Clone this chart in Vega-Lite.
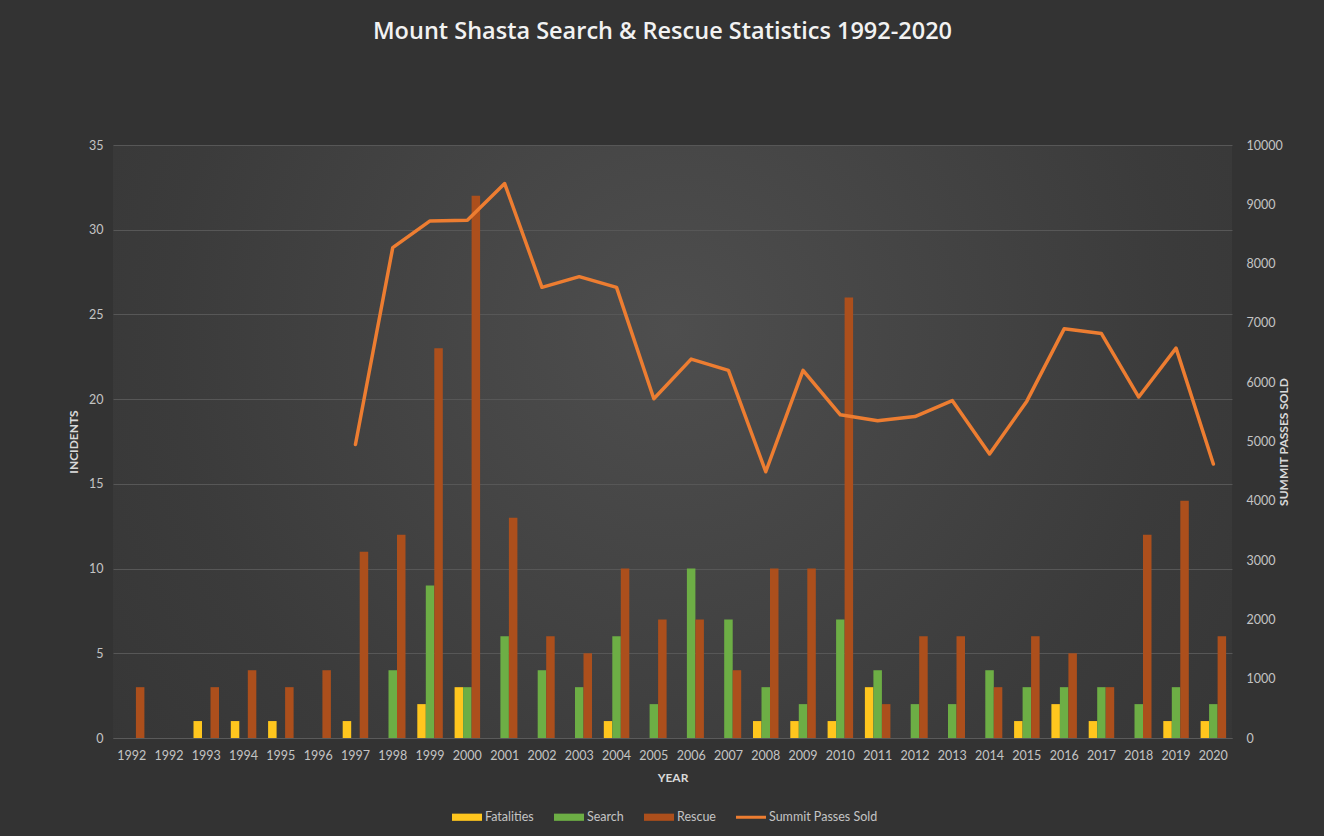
{
  "$schema": "https://vega.github.io/schema/vega-lite/v6.json",
  "width": 1119,
  "height": 593,
  "autosize": {"type": "none"},
  "padding": {"left": 113, "top": 145, "right": 92, "bottom": 98},
  "background": "#333333",
  "config": {
    "font": "Lato",
    "view": {
      "stroke": null,
      "fill": {
        "gradient": "radial",
        "x1": 0.5, "y1": 0.4, "r1": 0,
        "x2": 0.5, "y2": 0.4, "r2": 0.75,
        "stops": [
          {"offset": 0, "color": "#4e4e4e"},
          {"offset": 0.6, "color": "#3b3b3b"},
          {"offset": 1, "color": "#333333"}
        ]
      }
    },
    "axis": {
      "labelFont": "Lato",
      "labelFontSize": 12.5,
      "labelColor": "#c4c4c4",
      "titleFont": "Lato",
      "titleFontSize": 12,
      "titleFontWeight": "bold",
      "titleColor": "#d9d9d9",
      "ticks": false
    }
  },
  "title": {
    "text": "Mount Shasta Search & Rescue Statistics 1992-2020",
    "font": "Open Sans",
    "fontSize": 23.5,
    "fontWeight": 600,
    "color": "#f2f2f2",
    "anchor": "middle",
    "offset": 96,
    "dx": -10
  },
  "datasets": {
    "incidents": [
      {"slot": "1992a", "series": "Fatalities", "value": 0}, {"slot": "1992a", "series": "Search", "value": 0}, {"slot": "1992a", "series": "Rescue", "value": 3},
      {"slot": "1992b", "series": "Fatalities", "value": 0}, {"slot": "1992b", "series": "Search", "value": 0}, {"slot": "1992b", "series": "Rescue", "value": 0},
      {"slot": "1993", "series": "Fatalities", "value": 1}, {"slot": "1993", "series": "Search", "value": 0}, {"slot": "1993", "series": "Rescue", "value": 3},
      {"slot": "1994", "series": "Fatalities", "value": 1}, {"slot": "1994", "series": "Search", "value": 0}, {"slot": "1994", "series": "Rescue", "value": 4},
      {"slot": "1995", "series": "Fatalities", "value": 1}, {"slot": "1995", "series": "Search", "value": 0}, {"slot": "1995", "series": "Rescue", "value": 3},
      {"slot": "1996", "series": "Fatalities", "value": 0}, {"slot": "1996", "series": "Search", "value": 0}, {"slot": "1996", "series": "Rescue", "value": 4},
      {"slot": "1997", "series": "Fatalities", "value": 1}, {"slot": "1997", "series": "Search", "value": 0}, {"slot": "1997", "series": "Rescue", "value": 11},
      {"slot": "1998", "series": "Fatalities", "value": 0}, {"slot": "1998", "series": "Search", "value": 4}, {"slot": "1998", "series": "Rescue", "value": 12},
      {"slot": "1999", "series": "Fatalities", "value": 2}, {"slot": "1999", "series": "Search", "value": 9}, {"slot": "1999", "series": "Rescue", "value": 23},
      {"slot": "2000", "series": "Fatalities", "value": 3}, {"slot": "2000", "series": "Search", "value": 3}, {"slot": "2000", "series": "Rescue", "value": 32},
      {"slot": "2001", "series": "Fatalities", "value": 0}, {"slot": "2001", "series": "Search", "value": 6}, {"slot": "2001", "series": "Rescue", "value": 13},
      {"slot": "2002", "series": "Fatalities", "value": 0}, {"slot": "2002", "series": "Search", "value": 4}, {"slot": "2002", "series": "Rescue", "value": 6},
      {"slot": "2003", "series": "Fatalities", "value": 0}, {"slot": "2003", "series": "Search", "value": 3}, {"slot": "2003", "series": "Rescue", "value": 5},
      {"slot": "2004", "series": "Fatalities", "value": 1}, {"slot": "2004", "series": "Search", "value": 6}, {"slot": "2004", "series": "Rescue", "value": 10},
      {"slot": "2005", "series": "Fatalities", "value": 0}, {"slot": "2005", "series": "Search", "value": 2}, {"slot": "2005", "series": "Rescue", "value": 7},
      {"slot": "2006", "series": "Fatalities", "value": 0}, {"slot": "2006", "series": "Search", "value": 10}, {"slot": "2006", "series": "Rescue", "value": 7},
      {"slot": "2007", "series": "Fatalities", "value": 0}, {"slot": "2007", "series": "Search", "value": 7}, {"slot": "2007", "series": "Rescue", "value": 4},
      {"slot": "2008", "series": "Fatalities", "value": 1}, {"slot": "2008", "series": "Search", "value": 3}, {"slot": "2008", "series": "Rescue", "value": 10},
      {"slot": "2009", "series": "Fatalities", "value": 1}, {"slot": "2009", "series": "Search", "value": 2}, {"slot": "2009", "series": "Rescue", "value": 10},
      {"slot": "2010", "series": "Fatalities", "value": 1}, {"slot": "2010", "series": "Search", "value": 7}, {"slot": "2010", "series": "Rescue", "value": 26},
      {"slot": "2011", "series": "Fatalities", "value": 3}, {"slot": "2011", "series": "Search", "value": 4}, {"slot": "2011", "series": "Rescue", "value": 2},
      {"slot": "2012", "series": "Fatalities", "value": 0}, {"slot": "2012", "series": "Search", "value": 2}, {"slot": "2012", "series": "Rescue", "value": 6},
      {"slot": "2013", "series": "Fatalities", "value": 0}, {"slot": "2013", "series": "Search", "value": 2}, {"slot": "2013", "series": "Rescue", "value": 6},
      {"slot": "2014", "series": "Fatalities", "value": 0}, {"slot": "2014", "series": "Search", "value": 4}, {"slot": "2014", "series": "Rescue", "value": 3},
      {"slot": "2015", "series": "Fatalities", "value": 1}, {"slot": "2015", "series": "Search", "value": 3}, {"slot": "2015", "series": "Rescue", "value": 6},
      {"slot": "2016", "series": "Fatalities", "value": 2}, {"slot": "2016", "series": "Search", "value": 3}, {"slot": "2016", "series": "Rescue", "value": 5},
      {"slot": "2017", "series": "Fatalities", "value": 1}, {"slot": "2017", "series": "Search", "value": 3}, {"slot": "2017", "series": "Rescue", "value": 3},
      {"slot": "2018", "series": "Fatalities", "value": 0}, {"slot": "2018", "series": "Search", "value": 2}, {"slot": "2018", "series": "Rescue", "value": 12},
      {"slot": "2019", "series": "Fatalities", "value": 1}, {"slot": "2019", "series": "Search", "value": 3}, {"slot": "2019", "series": "Rescue", "value": 14},
      {"slot": "2020", "series": "Fatalities", "value": 1}, {"slot": "2020", "series": "Search", "value": 2}, {"slot": "2020", "series": "Rescue", "value": 6}
    ],
    "passes": [
      {"slot": "1997", "passes": 4950},
      {"slot": "1998", "passes": 8270},
      {"slot": "1999", "passes": 8720},
      {"slot": "2000", "passes": 8730},
      {"slot": "2001", "passes": 9350},
      {"slot": "2002", "passes": 7600},
      {"slot": "2003", "passes": 7780},
      {"slot": "2004", "passes": 7600},
      {"slot": "2005", "passes": 5720},
      {"slot": "2006", "passes": 6390},
      {"slot": "2007", "passes": 6200},
      {"slot": "2008", "passes": 4490},
      {"slot": "2009", "passes": 6200},
      {"slot": "2010", "passes": 5450},
      {"slot": "2011", "passes": 5350},
      {"slot": "2012", "passes": 5420},
      {"slot": "2013", "passes": 5690},
      {"slot": "2014", "passes": 4790},
      {"slot": "2015", "passes": 5680},
      {"slot": "2016", "passes": 6900},
      {"slot": "2017", "passes": 6820},
      {"slot": "2018", "passes": 5750},
      {"slot": "2019", "passes": 6575},
      {"slot": "2020", "passes": 4620}
    ]
  },
  "encoding": {
    "x": {
      "field": "slot",
      "type": "nominal",
      "title": "YEAR",
      "scale": {"paddingInner": 0.316, "paddingOuter": 0.158},
      "axis": {
        "labelExpr": "substring(datum.label, 0, 4)",
        "labelAngle": 0,
        "labelPadding": 11,
        "titlePadding": 11,
        "domainColor": "#5a5a5a",
        "domainWidth": 1,
        "grid": false
      }
    }
  },
  "layer": [
    {
      "data": {"name": "incidents"},
      "mark": {"type": "bar"},
      "encoding": {
        "xOffset": {
          "field": "series",
          "type": "nominal",
          "scale": {"domain": ["Fatalities", "Search", "Rescue"], "paddingInner": 0, "paddingOuter": 0}
        },
        "y": {
          "field": "value",
          "type": "quantitative",
          "title": "INCIDENTS",
          "scale": {"domain": [0, 35], "nice": false},
          "axis": {
            "values": [0, 5, 10, 15, 20, 25, 30, 35],
            "grid": true,
            "gridColor": "#575757",
            "gridWidth": 1,
            "domain": false,
            "labelPadding": 10,
            "titlePadding": 8
          }
        },
        "color": {
          "field": "series",
          "type": "nominal",
          "scale": {
            "domain": ["Fatalities", "Search", "Rescue", "Summit Passes Sold"],
            "range": ["#FFC61E", "#6DAE45", "#AC4F1C", "#ED7D31"]
          },
          "legend": {
            "orient": "none",
            "legendX": 339,
            "legendY": 657,
            "direction": "horizontal",
            "title": null,
            "labelFont": "Lato",
            "labelFontSize": 12.5,
            "labelColor": "#c4c4c4",
            "labelOffset": 3,
            "columnPadding": 20,
            "symbolSize": 900,
            "encode": {
              "symbols": {
                "update": {
                  "shape": {"signal": "datum.value === 'Summit Passes Sold' ? 'M-1,-0.1H1V0.1H-1Z' : 'M-1,-0.24H1V0.24H-1Z'"},
                  "fill": {"scale": "color", "field": "value"},
                  "strokeWidth": {"value": 0}
                }
              }
            }
          }
        }
      }
    },
    {
      "data": {"name": "passes"},
      "mark": {"type": "line", "strokeWidth": 3.5, "strokeJoin": "round", "strokeCap": "round"},
      "encoding": {
        "y": {
          "field": "passes",
          "type": "quantitative",
          "title": "SUMMIT PASSES SOLD",
          "scale": {"domain": [0, 10000], "nice": false},
          "axis": {
            "orient": "right",
            "format": "d",
            "values": [0, 1000, 2000, 3000, 4000, 5000, 6000, 7000, 8000, 9000, 10000],
            "grid": false,
            "domain": false,
            "labelPadding": 14,
            "titlePadding": 8,
            "titleAngle": 270
          }
        },
        "color": {"datum": "Summit Passes Sold"}
      }
    }
  ],
  "resolve": {"scale": {"y": "independent"}}
}
